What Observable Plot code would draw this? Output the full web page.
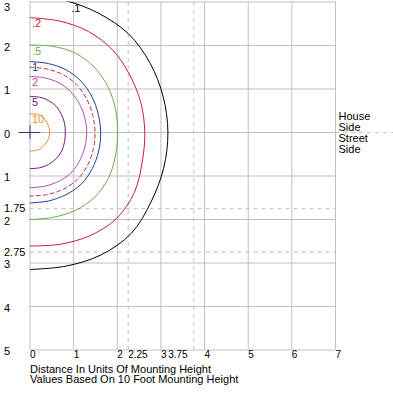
<!DOCTYPE html>
<html>
<head>
<meta charset="utf-8">
<script src="https://cdn.jsdelivr.net/npm/d3@7"></script>
<script src="https://cdn.jsdelivr.net/npm/@observablehq/plot@0.6"></script>
<style>
  html, body { margin: 0; padding: 0; background: #fff; }
  svg { display: block; }
</style>
</head>
<body>
<div id="chart"></div>
<script>
// Angles (degrees, 90 = straight toward house side, -90 = straight toward street side)
const angles = [90, 75, 60, 45, 30, 15, 0, -15, -30, -45, -60, -75, -90];

// Isofootcandle contour radii (units of mounting height) at each angle
const levelNames = [".1", ".2", ".5", "1", "", "2", "5", "10"];
const levelColors = ["#000000", "#cc1a3c", "#6cac4c", "#20408c", "#c82840", "#b050b0", "#6c1c84", "#e89028"];
const levelDashed = [false, false, false, false, true, false, false, false];
const radii01 = [3.15, 3.14, 3.16, 3.20, 3.18, 3.16, 3.16, 3.17, 3.20, 3.28, 3.25, 3.18, 3.15];
const radii02 = [2.64, 2.65, 2.68, 2.68, 2.64, 2.63, 2.63, 2.66, 2.76, 2.80, 2.74, 2.66, 2.61];
const radii05 = [2.01, 2.05, 2.10, 2.10, 2.07, 2.03, 2.01, 2.03, 2.08, 2.10, 2.07, 2.02, 2.00];
const radii1  = [1.63, 1.64, 1.66, 1.66, 1.64, 1.62, 1.62, 1.63, 1.65, 1.67, 1.65, 1.63, 1.62];
const radiiD  = [1.50, 1.51, 1.53, 1.53, 1.51, 1.49, 1.49, 1.50, 1.52, 1.53, 1.51, 1.48, 1.46];
const radii2  = [1.29, 1.30, 1.32, 1.32, 1.31, 1.30, 1.30, 1.30, 1.31, 1.32, 1.30, 1.28, 1.27];
const radii5  = [0.83, 0.84, 0.85, 0.85, 0.83, 0.82, 0.81, 0.82, 0.84, 0.85, 0.85, 0.84, 0.83];
const radii10 = [0.43, 0.44, 0.46, 0.46, 0.45, 0.45, 0.45, 0.45, 0.44, 0.44, 0.44, 0.43, 0.43];
const allRadii = [radii01, radii02, radii05, radii1, radiiD, radii2, radii5, radii10];

// Axis ticks
const xTicks = [0, 1, 2, 3, 4, 5, 6, 7];
const xSpecial = [2.25, 3.75];
const yTicks = [3, 2, 1, 0, -1, -2, -3, -4, -5];
const ySpecial = [-1.75, -2.75];
const crossX = [-0.25, 0.25];
const crossY = [-0.16, 0.16];
const sideLabels = ["House", "Side", "Street", "Side"];
const captionLines = ["Distance In Units Of Mounting Height", "Values Based On 10 Foot Mounting Height"];

const yTop = 3;

const contours = allRadii.map((rs, i) => rs.map((r, j) => {
  const t = angles[j] * Math.PI / 180;
  return {level: i, x: r * Math.cos(t), y: r * Math.sin(t)};
}));

// Label anchor: top end of each contour, or where it crosses the frame top
const labels = contours.map((pts, i) => {
  const top = pts[0];
  if (top.y <= yTop) return {x: 0, y: top.y, text: levelNames[i], color: levelColors[i]};
  for (let k = 0; k < pts.length - 1; k++) {
    const a = pts[k], b = pts[k + 1];
    if (a.y >= yTop && b.y < yTop) {
      const f = (a.y - yTop) / (a.y - b.y);
      return {x: a.x + f * (b.x - a.x), y: yTop, text: levelNames[i], color: levelColors[i]};
    }
  }
}).filter(d => d && d.text);

const font = "'Liberation Sans', Arial, sans-serif";
const grid = "#c0c0c0";

const chart = Plot.plot({
  width: 393,
  height: 393,
  marginLeft: 29.5,
  marginRight: 58,
  marginTop: 1.5,
  marginBottom: 43.5,
  x: {domain: [0, 7], axis: null},
  y: {domain: [-5, 3], axis: null},
  style: {fontFamily: font, fontSize: "11px", background: "#fff", color: "#000"},
  marks: [
    Plot.ruleX(xTicks, {stroke: grid}),
    Plot.ruleY(yTicks, {stroke: grid}),
    Plot.ruleX(xSpecial, {stroke: "#c0c0c0", strokeDasharray: "4,4"}),
    Plot.ruleY(ySpecial, {stroke: "#d0b8c0", strokeDasharray: "4,4"}),
    Plot.ruleY([0], {x1: 7, x2: 8.4, stroke: "#c8c8c8", strokeDasharray: "4,4"}),
    ...contours.map((pts, i) => Plot.line(pts, {
      x: "x", y: "y", stroke: levelColors[i], strokeWidth: 1, curve: "catmull-rom",
      strokeDasharray: levelDashed[i] ? "4,3" : null, clip: true
    })),
    Plot.ruleY([0], {x1: crossX[0], x2: crossX[1], stroke: "#2c3c7c"}),
    Plot.ruleX([0], {y1: crossY[0], y2: crossY[1], stroke: "#2c3c7c"}),
    Plot.text(labels, {x: "x", y: "y", text: "text", fill: "color", dx: 2, dy: 6, textAnchor: "start", fontSize: 11}),
    Plot.text(yTicks.filter(d => d < 3), {y: d => d, text: d => String(Math.abs(d)), frameAnchor: "left", dx: -26, dy: 1.5, textAnchor: "start", fontSize: 11}),
    Plot.text(yTicks.filter(d => d >= 3), {y: d => d, text: d => String(Math.abs(d)), frameAnchor: "left", dx: -26, dy: 5, textAnchor: "start", fontSize: 11}),
    Plot.text(ySpecial, {y: d => d, text: d => String(Math.abs(d)), frameAnchor: "left", dx: -26, dy: 0, textAnchor: "start", fontSize: 11}),
    Plot.text(xTicks.concat([xSpecial[0]]), {x: d => d, text: d => String(d), frameAnchor: "bottom", dy: 8, textAnchor: "start", fontSize: 10}),
    Plot.text([xSpecial[1]], {x: d => d, text: d => String(d), frameAnchor: "bottom", dy: 8, dx: -6, textAnchor: "end", fontSize: 10}),
    Plot.text([captionLines.join("\n")], {frameAnchor: "bottom-left", text: d => d, dy: 24.5, textAnchor: "start", lineAnchor: "middle", lineHeight: 0.95, fontSize: 11}),
    Plot.text([sideLabels.join("\n")], {x: 7, y: 0, text: d => d, dx: 3, dy: 0, textAnchor: "start", lineAnchor: "middle", lineHeight: 1.0, fontSize: 11})
  ]
});
document.getElementById("chart").appendChild(chart);
</script>
</body>
</html>
